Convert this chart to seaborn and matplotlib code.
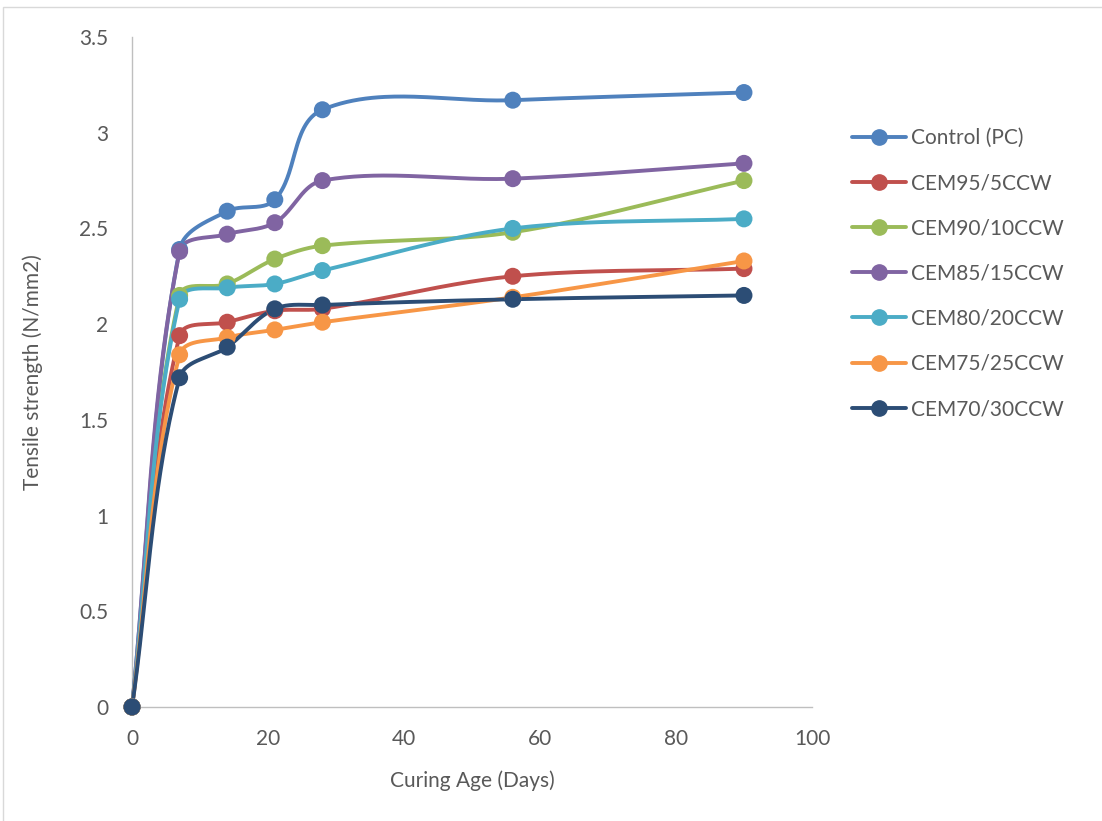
import numpy as np
import pandas as pd
import matplotlib
matplotlib.use("Agg")
import matplotlib.pyplot as plt
from matplotlib.lines import Line2D
from matplotlib.patches import Rectangle
import seaborn as sns

# Curing ages and tensile strengths (N/mm2)
days = [0, 7, 14, 21, 28, 56, 90]
control_pc = [0, 2.39, 2.59, 2.65, 3.12, 3.17, 3.21]
cem95_5 = [0, 1.94, 2.01, 2.07, 2.08, 2.25, 2.29]
cem90_10 = [0, 2.15, 2.21, 2.34, 2.41, 2.48, 2.75]
cem85_15 = [0, 2.38, 2.47, 2.53, 2.75, 2.76, 2.84]
cem80_20 = [0, 2.13, 2.19, 2.21, 2.28, 2.50, 2.55]
cem75_25 = [0, 1.84, 1.93, 1.97, 2.01, 2.14, 2.33]
cem70_30 = [0, 1.72, 1.88, 2.08, 2.10, 2.13, 2.15]

series_names = ["Control (PC)", "CEM95/5CCW", "CEM90/10CCW", "CEM85/15CCW",
                "CEM80/20CCW", "CEM75/25CCW", "CEM70/30CCW"]
series_values = [control_pc, cem95_5, cem90_10, cem85_15, cem80_20, cem75_25, cem70_30]
colors = ["#4F81BD", "#C0504D", "#9BBB59", "#8064A2", "#4BACC6", "#F79646", "#2C4D75"]

x_ticks = [0, 20, 40, 60, 80, 100]
y_ticks = [0, 0.5, 1, 1.5, 2, 2.5, 3, 3.5]
x_range = (0, 100)
y_range = (0, 3.5)

FIG_W, FIG_H = 11.02, 8.21
AX_RECT = [0.1198, 0.1389, 0.617, 0.8160]
# pixels per data unit, used so the smoothing is done in display space
SX = AX_RECT[2] * FIG_W * 100 / (x_range[1] - x_range[0])
SY = AX_RECT[3] * FIG_H * 100 / (y_range[1] - y_range[0])


def smooth_curve(xs, ys, n=60):
    """Cubic Bezier smoothing through every point, tangent lengths scaled per segment."""
    pts = np.column_stack([np.asarray(xs, float) * SX, np.asarray(ys, float) * SY])
    m = len(pts)

    def tangent(i):
        a = pts[max(i - 1, 0)]
        b = pts[min(i + 1, m - 1)]
        v = b - a
        nrm = np.hypot(*v)
        return v / nrm if nrm > 0 else v

    out = []
    for i in range(m - 1):
        p1, p2 = pts[i], pts[i + 1]
        d = np.hypot(*(p2 - p1))
        c1 = p1 + tangent(i) * d / 3.0
        c2 = p2 - tangent(i + 1) * d / 3.0
        t = np.linspace(0, 1, n)[:, None]
        seg = ((1 - t) ** 3) * p1 + 3 * ((1 - t) ** 2) * t * c1 + 3 * (1 - t) * t ** 2 * c2 + t ** 3 * p2
        out.append(seg if i == 0 else seg[1:])
    arr = np.vstack(out)
    return arr[:, 0] / SX, arr[:, 1] / SY


rows_pts = []
rows_curve = []
for name, vals in zip(series_names, series_values):
    for d, v in zip(days, vals):
        rows_pts.append({"Series": name, "Days": d, "Strength": v})
    cx, cy = smooth_curve(days, vals)
    for a, b in zip(cx, cy):
        rows_curve.append({"Series": name, "Days": a, "Strength": b})

pts_df = pd.DataFrame(rows_pts)
curve_df = pd.DataFrame(rows_curve)

sns.set_theme(style="white")
plt.rcParams["font.family"] = ["Lato", "DejaVu Sans"]

fig = plt.figure(figsize=(FIG_W, FIG_H), dpi=100)
ax = fig.add_axes(AX_RECT)

palette = dict(zip(series_names, colors))
for name in series_names:
    sub_c = curve_df[curve_df["Series"] == name]
    sub_p = pts_df[pts_df["Series"] == name]
    sns.lineplot(data=sub_c, x="Days", y="Strength", color=palette[name], lw=2.8,
                 sort=False, estimator=None, ax=ax, legend=False, zorder=3)
    sns.scatterplot(data=sub_p, x="Days", y="Strength", color=palette[name], s=150,
                    edgecolor="none", ax=ax, legend=False, zorder=4)

ax.set_xlim(*x_range)
ax.set_ylim(*y_range)
ax.set_xticks(x_ticks)
ax.set_xticklabels([str(t) for t in x_ticks])
ax.set_yticks(y_ticks)
ax.set_yticklabels(["0", "0.5", "1", "1.5", "2", "2.5", "3", "3.5"])
ax.tick_params(axis="x", labelsize=15, colors="#595959", length=0, pad=16)
ax.tick_params(axis="y", labelsize=15, colors="#595959", length=0, pad=17)
ax.set_xlabel("Curing Age (Days)", fontsize=15, color="#595959", labelpad=15)
ax.set_ylabel("Tensile strength (N/mm2)", fontsize=15, color="#595959", labelpad=26)

for side in ["top", "right"]:
    ax.spines[side].set_visible(False)
ax.spines["left"].set_color("#BFBFBF")
ax.spines["bottom"].set_color("#BFBFBF")
ax.spines["left"].set_linewidth(1.0)
ax.spines["bottom"].set_linewidth(1.0)
ax.grid(False)
for coll in ax.collections:
    coll.set_clip_on(False)
for ln in ax.lines:
    ln.set_clip_on(False)

handles = [Line2D([0], [0], color=c, lw=2.8, marker="o", markersize=11) for c in colors]
fig.legend(handles, series_names, loc="upper left", bbox_to_anchor=(0.756, 0.867),
           frameon=False, fontsize=15, labelcolor="#595959", handlelength=2.6,
           handletextpad=0.25, labelspacing=1.21)

# chart area outline
fig.patches.append(Rectangle((0.003, -0.1), 1.2, 0.1 + 0.9915, transform=fig.transFigure,
                             fill=False, edgecolor="#D9D9D9", lw=1.0))

fig.savefig("out.png", dpi=100)
